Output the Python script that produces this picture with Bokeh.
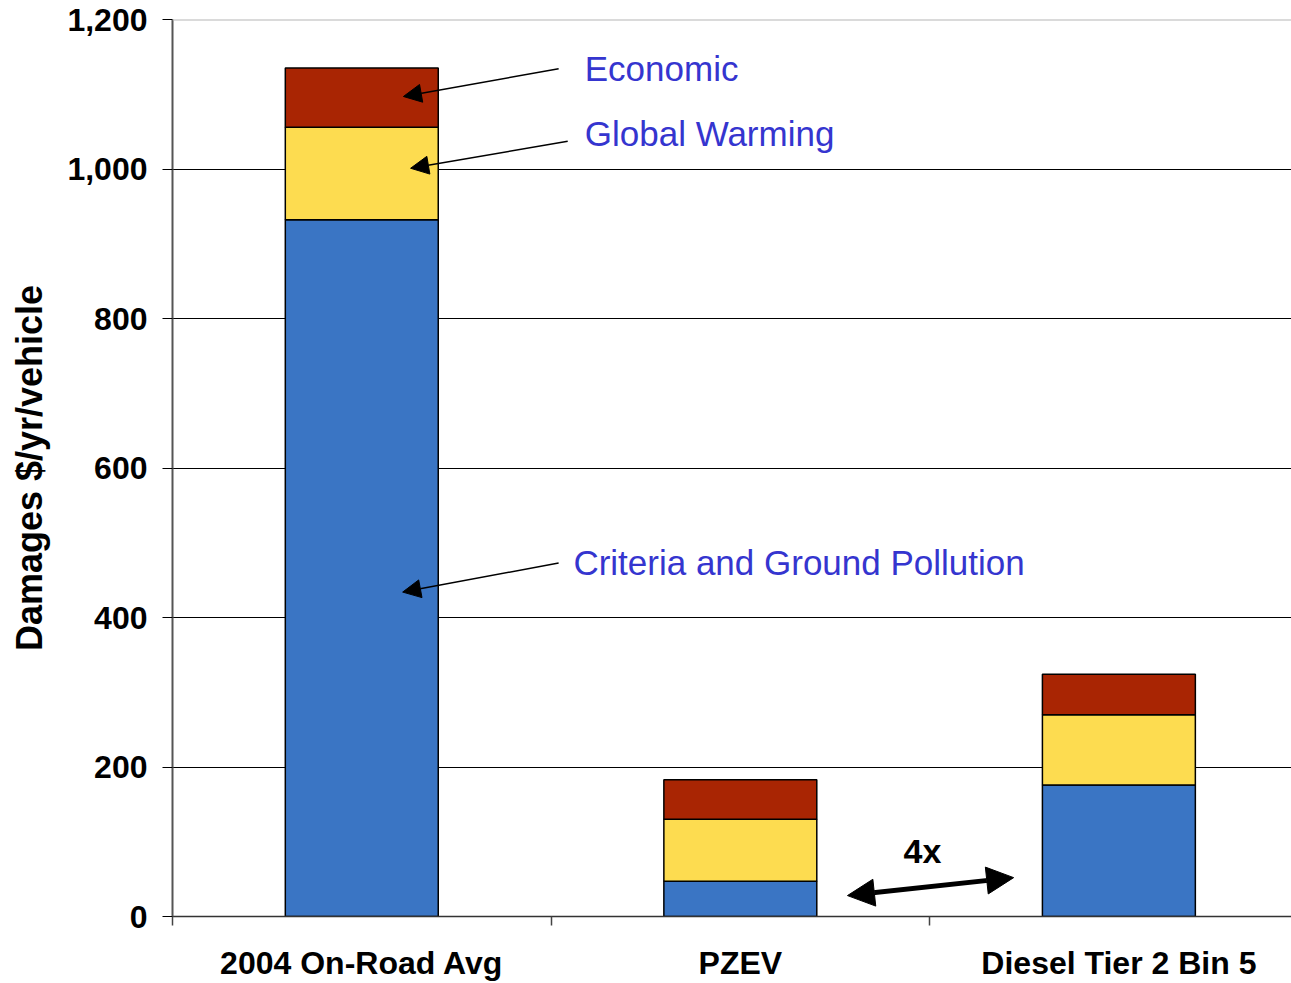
from bokeh.plotting import figure
from bokeh.models import (ColumnDataSource, Range1d, FixedTicker, NumeralTickFormatter,
                          Label, Arrow, NormalHead, Span)
from bokeh.embed import file_html
from bokeh.resources import INLINE

# ---- data ----
categories = ["2004 On-Road Avg", "PZEV", "Diesel Tier 2 Bin 5"]
criteria = [932, 47, 176]
global_warming = [124, 83, 94]
economic = [79, 53, 54]
y_ticks = [0, 200, 400, 600, 800, 1000, 1200]

FONT = "Liberation Sans"
BLUE, YELLOW, RED = "#3A75C4", "#FDDC50", "#A92503"
ANN = "#3535CF"

xpos = [i + 0.5 for i in range(len(categories))]
src = ColumnDataSource(dict(x=xpos, criteria=criteria, gw=global_warming, econ=economic))

p = figure(width=1291, height=983, output_backend="svg", toolbar_location=None,
           x_range=Range1d(0, 2.956), y_range=Range1d(0, 1200),
           min_border_left=172, min_border_right=0, min_border_top=19, min_border_bottom=66)
p.outline_line_color = None
p.background_fill_color = "white"

p.vbar_stack(["criteria", "gw", "econ"], x="x", width=0.404, source=src,
             color=[BLUE, YELLOW, RED], line_color="black", line_width=1.5)

# axes
p.yaxis.ticker = FixedTicker(ticks=y_ticks)
p.yaxis.formatter = NumeralTickFormatter(format="0,0")
p.yaxis.major_label_text_font = FONT
p.yaxis.major_label_text_font_style = "bold"
p.yaxis.major_label_text_font_size = "32px"
p.yaxis.major_label_text_color = "black"
p.yaxis.major_tick_out = 10
p.yaxis.major_tick_in = 0
p.yaxis.major_tick_line_color = "black"
p.yaxis.minor_tick_line_color = None
p.yaxis.major_label_standoff = 15
p.yaxis.axis_line_color = "#555555"
p.yaxis.axis_line_width = 2
p.yaxis.axis_label = "Damages $/yr/vehicle"
p.yaxis.axis_label_text_font = FONT
p.yaxis.axis_label_text_font_style = "bold"
p.yaxis.axis_label_text_font_size = "36px"
p.yaxis.axis_label_text_color = "black"
p.yaxis.axis_label_standoff = 14

p.xaxis.ticker = FixedTicker(ticks=xpos, minor_ticks=list(range(len(categories) + 1)))
p.xaxis.major_label_overrides = {x: c for x, c in zip(xpos, categories)}
p.xaxis.major_tick_line_color = None
p.xaxis.major_tick_out = 0
p.xaxis.major_tick_in = 0
p.xaxis.minor_tick_out = 9
p.xaxis.minor_tick_in = 0
p.xaxis.minor_tick_line_color = "#444444"
p.xaxis.minor_tick_line_width = 1.5
p.xaxis.axis_line_color = "#333333"
p.xaxis.axis_line_width = 1.5
p.xaxis.major_label_text_font = FONT
p.xaxis.major_label_text_font_style = "bold"
p.xaxis.major_label_text_font_size = "32px"
p.xaxis.major_label_text_color = "black"
p.xaxis.major_label_standoff = 19

p.xgrid.grid_line_color = None
p.ygrid.ticker = FixedTicker(ticks=[t for t in y_ticks if t not in (0, 1200)])
p.ygrid.grid_line_color = "black"
p.ygrid.grid_line_width = 1

p.add_layout(Span(location=1200, dimension="width", line_color="#b5b5b5", line_width=2))

# annotations
def lbl(x, y, text, color=ANN, size="35px", style="normal", align="left"):
    p.add_layout(Label(x=x, y=y, text=text, text_color=color, text_font=FONT,
                       text_font_size=size, text_font_style=style,
                       text_align=align, text_baseline="middle"))

lbl(1.089, 1134, "Economic")
lbl(1.089, 1048, "Global Warming")
lbl(1.059, 473, "Criteria and Ground Pollution")
lbl(1.981, 88, "4x", color="black", size="34px", style="bold", align="center")

def arrow(x0, y0, x1, y1, w=1.5, size=18, both=False):
    head = NormalHead(size=size, fill_color="black", line_color="black")
    start = NormalHead(size=size, fill_color="black", line_color="black") if both else None
    p.add_layout(Arrow(x_start=x0, y_start=y0, x_end=x1, y_end=y1, line_width=w,
                       line_color="black", end=head, start=start))

arrow(1.020, 1134, 0.610, 1097)
arrow(1.044, 1037, 0.629, 1001)
arrow(1.020, 473, 0.608, 434)
arrow(1.783, 28, 2.222, 52, w=5, size=27, both=True)

open("out.html", "w").write(file_html(p, INLINE))
